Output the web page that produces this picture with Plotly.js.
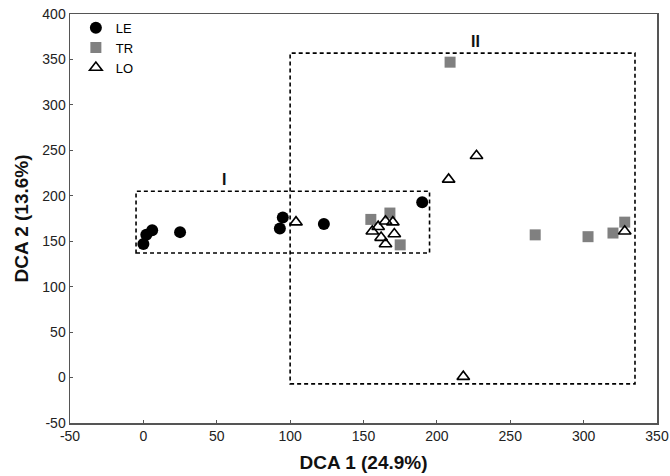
<!DOCTYPE html>
<html><head><meta charset="utf-8">
<script src="https://cdn.plot.ly/plotly-3.0.1.min.js"></script>
<style>html,body{margin:0;padding:0;background:#fff}#chart{width:670px;height:476px}</style>
</head><body><div id="chart"></div>
<script>
const leX = [0, 2, 6, 25, 93, 95, 123, 190];
const leY = [147, 157, 162, 160, 164, 176, 169, 193];
const trX = [155, 168, 175, 209, 267, 303, 320, 328];
const trY = [174, 181, 146, 347, 157, 155, 159, 171];
const loX = [104, 156, 160, 165, 170, 171, 162, 165, 208, 227, 218, 328];
const loY = [171, 161, 166, 172, 171, 158, 154, 147, 218, 244, 1, 161];
const seriesNames = ["LE", "TR", "LO"];
const boxI = {x0: -5, x1: 195, y0: 137, y1: 205, label: "I", lx: 55, ly: 218};
const boxII = {x0: 100, x1: 335, y0: -7, y1: 357, label: "II", lx: 226, ly: 370};
const xTicks = [-50, 0, 50, 100, 150, 200, 250, 300, 350];
const yTicks = [-50, 0, 50, 100, 150, 200, 250, 300, 350, 400];
const xTickText = ["-50", "0", "50", "100", "150", "200", "250", "300", "350"];
const yTickText = ["-50", "0", "50", "100", "150", "200", "250", "300", "350", "400"];

const FONT = 'Liberation Sans, Arial, sans-serif';
const traces = [
  {x: leX, y: leY, name: seriesNames[0], mode: 'markers', type: 'scatter',
   marker: {symbol: 'circle', size: 12, color: '#000'}},
  {x: trX, y: trY, name: seriesNames[1], mode: 'markers', type: 'scatter',
   marker: {symbol: 'square', size: 11, color: '#808080'}},
  {x: loX, y: loY, name: seriesNames[2], mode: 'markers', type: 'scatter',
   marker: {symbol: 'triangle-up-open', size: 11, color: '#000', line: {width: 1.6, color: '#000'}}}
];
const boxes = [boxI, boxII];
const shapes = boxes.map(b => ({type: 'rect', xref: 'x', yref: 'y', x0: b.x0, x1: b.x1, y0: b.y0, y1: b.y1,
  line: {color: '#000', width: 1.6, dash: '4px,3px'}, fillcolor: 'rgba(0,0,0,0)'}));
const annotations = boxes.map(b => ({x: b.lx, y: b.ly, xref: 'x', yref: 'y', text: '<b>' + b.label + '</b>',
  showarrow: false, font: {family: FONT, size: 16, color: '#111'}}));

const axisCommon = {showgrid: false, zeroline: false, showline: true, mirror: true, linecolor: '#555', linewidth: 1.5,
  ticks: 'inside', ticklen: 3, tickcolor: '#555', tickwidth: 1,
  tickfont: {family: FONT, size: 14, color: '#222'}};

const layout = {
  width: 670, height: 476,
  margin: {l: 70, r: 13, t: 14, b: 53},
  paper_bgcolor: '#fff', plot_bgcolor: '#fff',
  showlegend: true,
  legend: {x: 0.01, y: 1.003, xanchor: 'left', yanchor: 'top', bgcolor: 'rgba(0,0,0,0)', borderwidth: 0,
    font: {family: FONT, size: 13, color: '#000'}, tracegroupgap: 0, itemwidth: 30},
  xaxis: Object.assign({}, axisCommon, {range: [-50, 350], tickvals: xTicks, ticktext: xTickText,
    title: {text: '<b>DCA 1 (24.9%)</b>', font: {family: FONT, size: 19, color: '#111'}, standoff: 12}}),
  yaxis: Object.assign({}, axisCommon, {range: [-50, 400], tickvals: yTicks, ticktext: yTickText,
    title: {text: '<b>DCA 2 (13.6%)</b>', font: {family: FONT, size: 19, color: '#111'}, standoff: 8}}),
  shapes: shapes,
  annotations: annotations
};
Plotly.newPlot('chart', traces, layout, {displayModeBar: false, staticPlot: true});
</script></body></html>
